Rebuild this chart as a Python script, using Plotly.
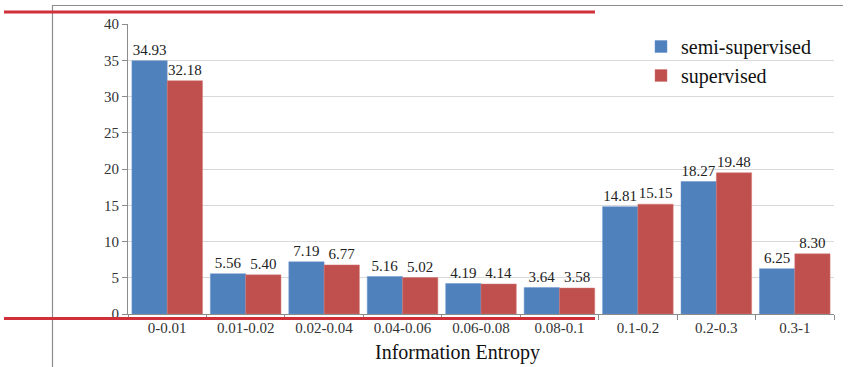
import plotly.graph_objects as go

categories = ["0-0.01", "0.01-0.02", "0.02-0.04", "0.04-0.06", "0.06-0.08",
              "0.08-0.1", "0.1-0.2", "0.2-0.3", "0.3-1"]
semi_supervised = [34.93, 5.56, 7.19, 5.16, 4.19, 3.64, 14.81, 18.27, 6.25]
supervised = [32.18, 5.40, 6.77, 5.02, 4.14, 3.58, 15.15, 19.48, 8.30]
y_ticks = [0, 5, 10, 15, 20, 25, 30, 35, 40]

FONT = "Liberation Serif"

fig = go.Figure()
fig.add_trace(go.Bar(
    x=categories, y=semi_supervised, name="semi-supervised",
    marker=dict(color="#4F81BD", line=dict(color="#6A95CC", width=0.5)),
    text=[f"{v:.2f}" for v in semi_supervised], textposition="outside",
    textfont=dict(family=FONT, size=15, color="#222"), cliponaxis=False,
))
fig.add_trace(go.Bar(
    x=categories, y=supervised, name="supervised",
    marker=dict(color="#C0504D", line=dict(color="#D27A78", width=0.5)),
    text=[f"{v:.2f}" for v in supervised], textposition="outside",
    textfont=dict(family=FONT, size=15, color="#222"), cliponaxis=False,
))

L, R, T, B = 128, 18, 24, 53
W, H = 852, 367
pw, ph = W - L - R, H - T - B

def px(x):
    return (x - L) / pw

def py(y):
    return (H - B - y) / ph

shapes = [
    dict(type="line", xref="paper", yref="paper", x0=px(52), x1=px(843), y0=py(5.5), y1=py(5.5),
         line=dict(color="#8C8C8C", width=1.2)),
    dict(type="line", xref="paper", yref="paper", x0=px(52.5), x1=px(52.5), y0=py(5), y1=py(367),
         line=dict(color="#8C8C8C", width=1.2)),
    dict(type="line", xref="paper", yref="paper", x0=px(4), x1=px(595), y0=py(12), y1=py(12),
         line=dict(color="#D0303A", width=3)),
    dict(type="line", xref="paper", yref="paper", x0=px(4), x1=px(595), y0=py(318.5), y1=py(318.5),
         line=dict(color="#D0303A", width=3)),
]

fig.update_layout(
    width=W, height=H,
    margin=dict(l=L, r=R, t=T, b=B),
    paper_bgcolor="white", plot_bgcolor="white",
    barmode="group", bargap=0.1, bargroupgap=0,
    font=dict(family=FONT, size=15, color="#333"),
    showlegend=True,
    legend=dict(x=px(641), y=py(27), xanchor="left", yanchor="top",
                font=dict(family=FONT, size=20, color="#111"),
                bgcolor="rgba(0,0,0,0)", itemwidth=30),
    shapes=shapes,
    annotations=[dict(text="Information Entropy", xref="paper", yref="paper",
                      x=px(457), y=py(352), xanchor="center", yanchor="middle",
                      showarrow=False, font=dict(family=FONT, size=20, color="#111"))],
    xaxis=dict(
        showline=True, linecolor="#8C8C8C", linewidth=1,
        ticks="outside", ticklen=5, tickcolor="#8C8C8C", tickson="boundaries",
        tickfont=dict(family=FONT, size=15, color="#333"),
        showgrid=False,
    ),
    yaxis=dict(
        range=[0, 40], tickvals=y_ticks, ticktext=[str(t) for t in y_ticks],
        showline=True, linecolor="#8C8C8C", linewidth=1,
        ticks="outside", ticklen=5, tickcolor="#8C8C8C",
        tickfont=dict(family=FONT, size=15, color="#333"),
        showgrid=True, gridcolor="#D9D9D9", gridwidth=1, zeroline=False,
    ),
)

fig.write_html("out.html", config={"displayModeBar": False})

with open("out.html", "r", encoding="utf-8") as f:
    html = f.read()
html = html.replace("<head>", "<head><style>html,body{margin:0;padding:0;overflow:hidden;}</style>", 1)
with open("out.html", "w", encoding="utf-8") as f:
    f.write(html)
